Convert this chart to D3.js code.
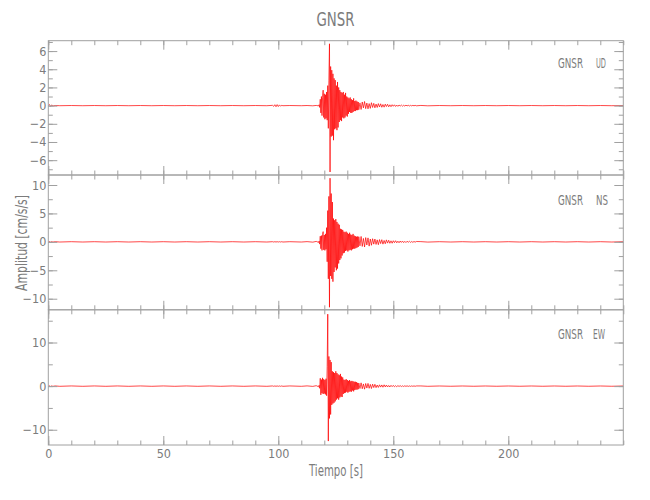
<!DOCTYPE html>
<html><head><meta charset="utf-8">
<script src="https://cdn.jsdelivr.net/npm/d3@7"></script>
<style>
body{margin:0;background:#fff;}
svg text{font-family:"Liberation Sans Narrow","DejaVu Sans Condensed",sans-serif;fill:#7c7c7c;}
</style></head><body>
<svg id="c" width="650" height="500"></svg>
<script>
// ---------------- DATA ----------------
const station = "GNSR";
const components = ["UD", "NS", "EW"];

// x axis ticks (seconds)
const xMajorTicks = [0, 50, 100, 150, 200];
const xMinorTicks = [0,10,20,30,40,50,60,70,80,90,100,110,120,130,140,150,160,170,180,190,200,210,220,230,240,250];

// y axis ticks per component
const udMajorTicks = [-6, -4, -2, 0, 2, 4, 6];
const udMinorTicks = [-7, -6, -5, -4, -3, -2, -1, 0, 1, 2, 3, 4, 5, 6, 7];
const nsMajorTicks = [-10, -5, 0, 5, 10];
const nsMinorTicks = [-10, -7.5, -5, -2.5, 0, 2.5, 5, 7.5, 10];
const ewMajorTicks = [-10, 0, 10];
const ewMinorTicks = [-10, -5, 0, 5, 10, 15];

// y ranges (cm/s/s)
const udRange = [-7.63, 7.14];
const nsRange = [-11.95, 11.76];
const ewRange = [-13.5, 17.5];

// pre-event samples
const preTimes = [0, 0.5, 1, 1.5, 2, 3, 5, 10, 15, 20, 25, 30, 35, 40, 45, 50, 55, 60, 65, 70, 75, 80, 85, 90, 95, 97.5, 98, 98.5, 99, 99.5, 100, 100.5, 101, 101.5, 102, 105, 110, 112.5, 115, 116.5, 117.5];
const udPre = [0, 0.12, -0.1, 0.08, -0.04, 0.01, -0.01, 0.01, -0.01, 0.01, -0.01, 0.01, -0.01, 0.01, -0.01, 0.01, -0.01, 0.01, -0.01, 0.01, -0.01, 0.01, -0.01, 0.01, -0.01, 0.03, -0.08, 0.1, -0.12, 0.11, -0.1, 0.08, -0.06, 0.03, -0.01, 0.01, -0.01, 0.01, -0.02, 0.02, -0.03];
const nsPre = [0, 0.05, -0.06, 0.04, -0.04, 0.03, -0.03, 0.03, -0.03, 0.03, -0.03, 0.03, -0.03, 0.03, -0.03, 0.03, -0.03, 0.03, -0.03, 0.03, -0.03, 0.03, -0.03, 0.03, -0.03, 0.03, -0.03, 0.03, -0.03, 0.03, -0.03, 0.03, -0.03, 0.03, -0.03, 0.03, -0.03, 0.04, -0.05, 0.08, -0.1];
const ewPre = [0, 0.06, -0.07, 0.05, -0.05, 0.04, -0.04, 0.04, -0.04, 0.04, -0.04, 0.04, -0.04, 0.04, -0.04, 0.04, -0.04, 0.04, -0.04, 0.04, -0.04, 0.04, -0.04, 0.04, -0.04, 0.04, -0.04, 0.04, -0.04, 0.04, -0.04, 0.04, -0.04, 0.04, -0.04, 0.04, -0.04, 0.05, -0.06, 0.1, -0.15];

// main event, sampled every 0.25 s starting at 117.75 s
const eventStart = 117.75, eventStep = 0.25;
const udEvent = [0.1, -0.2, 0.7, -0.8, 1.0, -1.1, 0.9, 1.7, -1.3, 1.3, -1.5, 1.2, -1.4, 1.5, -1.6, 2.2, -2.5, 2.8, 6.8, -7.3, 4.3, -3.4, 3.9, -3.3, 3.5, -3.8, 3.0, -2.6, 2.8, -2.5, 2.2, -2.7, 2.6, -2.4, 2.0, -1.8, 1.7, -1.6, 1.5, -1.7, 1.4, -1.3, 1.5, -1.4, 1.2, -1.3, 1.4, -1.1, 1.0, -1.2, 0.9, -0.9, 0.8, -0.7, 0.9, -0.8, 0.7, -0.8, 0.6, -0.7, 0.8, -0.6, 0.5, -0.6, 0.55, -0.5, 0.45, -0.5, 0.4];
const nsEvent = [0.15, -0.4, 1.0, -1.2, 1.1, -1.5, 1.3, 1.8, -1.4, 1.2, -1.5, 1.4, -1.3, 2.5, -3.5, 5.5, -6.5, 8.0, -11.5, 11.2, -6.0, 8.5, -6.5, 7.0, -7.0, 4.1, -5.3, 3.8, -4.5, 4.0, -5.0, 3.5, -4.7, 3.2, -3.8, 3.0, -3.2, 2.3, -2.9, 2.2, -2.4, 2.1, -2.0, 1.8, -1.9, 1.7, -1.6, 1.8, -1.5, 1.6, -1.7, 1.4, -1.5, 1.6, -1.4, 1.3, -1.5, 1.2, -1.3, 1.4, -1.2, 1.1, -1.2, 1.0, -1.1, 0.9, -1.0, 0.95, -0.9];
const ewEvent = [0.2, -0.5, 1.8, -2.0, 1.5, -1.6, 1.9, -1.8, 1.6, -1.7, 1.4, -1.9, 1.7, -2.2, 4.5, 16.5, -12.6, 6.8, -7.4, 6.0, -6.5, 5.5, -4.3, 3.4, -4.0, 3.2, -3.8, 3.0, -3.5, 3.4, -3.1, 3.0, -2.8, 2.7, -3.1, 2.5, -2.6, 2.8, -2.4, 2.2, -2.5, 2.0, -1.8, 1.5, -1.6, 1.4, -1.5, 1.6, -1.3, 1.4, -1.5, 1.2, -1.3, 1.4, -1.2, 1.1, -1.3, 1.2, -1.0, 1.1, -1.2, 1.0, -0.9, 1.0, -0.8, 0.9, -0.8, 0.75, -0.7];

// coda, sampled every 0.5 s starting at 135 s
const codaStart = 135, codaStep = 0.5;
const udCoda = [-0.45, 0.3, -0.42, 0.4, -0.25, 0.45, -0.33, 0.28, -0.35, 0.22, -0.3, 0.32, -0.2, 0.25, -0.24, 0.17, -0.2, 0.22, -0.15, 0.2, -0.18, 0.12, -0.17, 0.16, -0.1, 0.15, -0.13, 0.09, -0.12, 0.1, -0.07, 0.09, -0.09, 0.06, -0.08, 0.07, -0.05, 0.06, -0.06, 0.04, -0.05, 0.05, -0.03, 0.04, -0.04, 0.03, -0.03, 0.03, -0.02, 0.03, -0.02];
const nsCoda = [0.9, -0.7, 0.95, -0.8, 0.6, -0.9, 0.75, -0.55, 0.7, -0.75, 0.5, -0.6, 0.55, -0.4, 0.5, -0.45, 0.35, -0.5, 0.4, -0.3, 0.38, -0.4, 0.25, -0.33, 0.35, -0.22, 0.28, -0.25, 0.18, -0.24, 0.2, -0.14, 0.2, -0.17, 0.12, -0.16, 0.15, -0.1, 0.14, -0.13, 0.09, -0.12, 0.11, -0.07, 0.1, -0.09, 0.06, -0.08, 0.07, -0.05, 0.06];
const ewCoda = [0.7, -0.55, 0.75, -0.6, 0.5, -0.7, 0.6, -0.45, 0.62, -0.5, 0.4, -0.55, 0.45, -0.33, 0.42, -0.35, 0.25, -0.3, 0.3, -0.22, 0.27, -0.25, 0.3, -0.18, 0.25, -0.2, 0.15, -0.2, 0.18, -0.12, 0.17, -0.15, 0.1, -0.14, 0.12, -0.08, 0.11, -0.1, 0.07, -0.09, 0.08, -0.06, 0.07, -0.07, 0.05, -0.06, 0.05, -0.04, 0.05, -0.04, 0.04];

// post-event samples
const postTimes = [162, 165, 170, 175, 180, 185, 190, 195, 200, 205, 210, 215, 220, 225, 230, 235, 240, 245, 250];
const udPost = [0.02, -0.02, 0.01, -0.01, 0.01, -0.01, 0.01, -0.01, 0.01, -0.01, 0.01, -0.01, 0.01, -0.01, 0.01, -0.01, 0.01, -0.01, 0.01];
const nsPost = [0.04, -0.04, 0.03, -0.03, 0.03, -0.03, 0.03, -0.03, 0.03, -0.03, 0.03, -0.03, 0.03, -0.03, 0.03, -0.03, 0.03, -0.03, 0.03];
const ewPost = [0.04, -0.04, 0.03, -0.03, 0.03, -0.03, 0.03, -0.03, 0.03, -0.03, 0.03, -0.03, 0.03, -0.03, 0.03, -0.03, 0.03, -0.03, 0.03];

// ---------------- DRAWING ----------------
const svg = d3.select("#c");
const axisColor = "#a0a0a0";
const textColor = "#7c7c7c";
const plotLeft = 48.3, plotRight = 623.3;
const x = d3.scaleLinear().domain([0, 250]).range([plotLeft, plotRight]);

const panels = [
  {comp: components[0], top: 40.7, bottom: 175, range: udRange, major: udMajorTicks, minor: udMinorTicks, pre: udPre, ev: udEvent, coda: udCoda, post: udPost, labelY: 67.7, compX: 596},
  {comp: components[1], top: 175, bottom: 309.8, range: nsRange, major: nsMajorTicks, minor: nsMinorTicks, pre: nsPre, ev: nsEvent, coda: nsCoda, post: nsPost, labelY: 205, compX: 596},
  {comp: components[2], top: 309.8, bottom: 445, range: ewRange, major: ewMajorTicks, minor: ewMinorTicks, pre: ewPre, ev: ewEvent, coda: ewCoda, post: ewPost, labelY: 339.3, compX: 593}
];

const fmt = d => (d < 0 ? "\u2212" + Math.abs(d) : String(d));
const MAJ = 9, MIN = 4.5;

function styleAxis(g, showText) {
  g.select(".domain").remove();
  g.selectAll(".tick line").attr("stroke", axisColor).attr("stroke-width", 1);
  g.attr("font-family", null).attr("font-size", null);
  g.selectAll(".tick text")
    .style("font-family", '"Liberation Sans Narrow","DejaVu Sans Condensed",sans-serif')
    .style("font-size", "12.5px")
    .attr("fill", textColor);
  if (!showText) g.selectAll(".tick text").remove();
}

panels.forEach((p, idx) => {
  const y = d3.scaleLinear().domain(p.range).range([p.bottom, p.top]);
  const clipId = "clip" + idx;
  svg.append("clipPath").attr("id", clipId).append("rect")
    .attr("x", plotLeft).attr("y", p.top).attr("width", plotRight - plotLeft).attr("height", p.bottom - p.top);

  // trace
  const pts = [];
  preTimes.forEach((t, i) => pts.push([t, p.pre[i]]));
  p.ev.forEach((v, i) => pts.push([eventStart + i * eventStep, v]));
  p.coda.forEach((v, i) => pts.push([codaStart + i * codaStep, v]));
  postTimes.forEach((t, i) => pts.push([t, p.post[i]]));
  const line = d3.line().x(d => x(d[0])).y(d => y(d[1]));
  svg.append("path").datum(pts)
    .attr("clip-path", `url(#${clipId})`)
    .attr("d", line).attr("fill", "none")
    .attr("stroke", "#ff0000").attr("stroke-width", 0.8).attr("stroke-opacity", 0.9);

  // y axes
  svg.append("g").attr("transform", `translate(${plotLeft},0)`)
    .call(d3.axisLeft(y).tickValues(p.minor).tickSize(-MIN).tickFormat(""))
    .call(g => styleAxis(g, false));
  svg.append("g").attr("transform", `translate(${plotLeft},0)`)
    .call(d3.axisLeft(y).tickValues(p.major).tickSize(-MAJ).tickPadding(2).tickFormat(fmt))
    .call(g => styleAxis(g, true));
  svg.append("g").attr("transform", `translate(${plotRight},0)`)
    .call(d3.axisRight(y).tickValues(p.minor).tickSize(-MIN).tickFormat(""))
    .call(g => styleAxis(g, false));
  svg.append("g").attr("transform", `translate(${plotRight},0)`)
    .call(d3.axisRight(y).tickValues(p.major).tickSize(-MAJ).tickFormat(""))
    .call(g => styleAxis(g, false));

  // x axes (top & bottom)
  svg.append("g").attr("transform", `translate(0,${p.top})`)
    .call(d3.axisTop(x).tickValues(xMinorTicks).tickSize(-MIN).tickFormat(""))
    .call(g => styleAxis(g, false));
  svg.append("g").attr("transform", `translate(0,${p.top})`)
    .call(d3.axisTop(x).tickValues(xMajorTicks).tickSize(-MAJ).tickFormat(""))
    .call(g => styleAxis(g, false));
  svg.append("g").attr("transform", `translate(0,${p.bottom})`)
    .call(d3.axisBottom(x).tickValues(xMinorTicks).tickSize(-MIN).tickFormat(""))
    .call(g => styleAxis(g, false));
  const last = idx === panels.length - 1;
  svg.append("g").attr("transform", `translate(0,${p.bottom})`)
    .call(d3.axisBottom(x).tickValues(xMajorTicks).tickSize(-MAJ).tickPadding(4).tickFormat(d => String(d)))
    .call(g => styleAxis(g, last));

  // frame
  svg.append("rect").attr("x", plotLeft).attr("y", p.top)
    .attr("width", plotRight - plotLeft).attr("height", p.bottom - p.top)
    .attr("fill", "none").attr("stroke", axisColor).attr("stroke-width", 1);

  // panel label
  svg.append("text").attr("x", 558).attr("y", p.labelY)
    .attr("font-size", 14).attr("textLength", 25).attr("lengthAdjust", "spacingAndGlyphs")
    .text(station);
  svg.append("text").attr("x", p.compX).attr("y", p.labelY)
    .attr("font-size", 14).attr("textLength", p.comp === "UD" ? 10 : 12).attr("lengthAdjust", "spacingAndGlyphs")
    .text(p.comp);
});

// title
svg.append("text").attr("x", 335.5).attr("y", 25.5).attr("text-anchor", "middle")
  .attr("font-size", 19).attr("textLength", 38).attr("lengthAdjust", "spacingAndGlyphs")
  .text(station);

// x label
svg.append("text").attr("x", 336).attr("y", 476).attr("text-anchor", "middle")
  .attr("font-size", 15).attr("textLength", 54).attr("lengthAdjust", "spacingAndGlyphs")
  .text("Tiempo  [s]");

// y label
svg.append("text").attr("transform", "translate(27,243) rotate(-90)").attr("text-anchor", "middle")
  .attr("font-size", 15).attr("textLength", 96).attr("lengthAdjust", "spacingAndGlyphs")
  .text("Amplitud  [cm/s/s]");
</script>
</body></html>
